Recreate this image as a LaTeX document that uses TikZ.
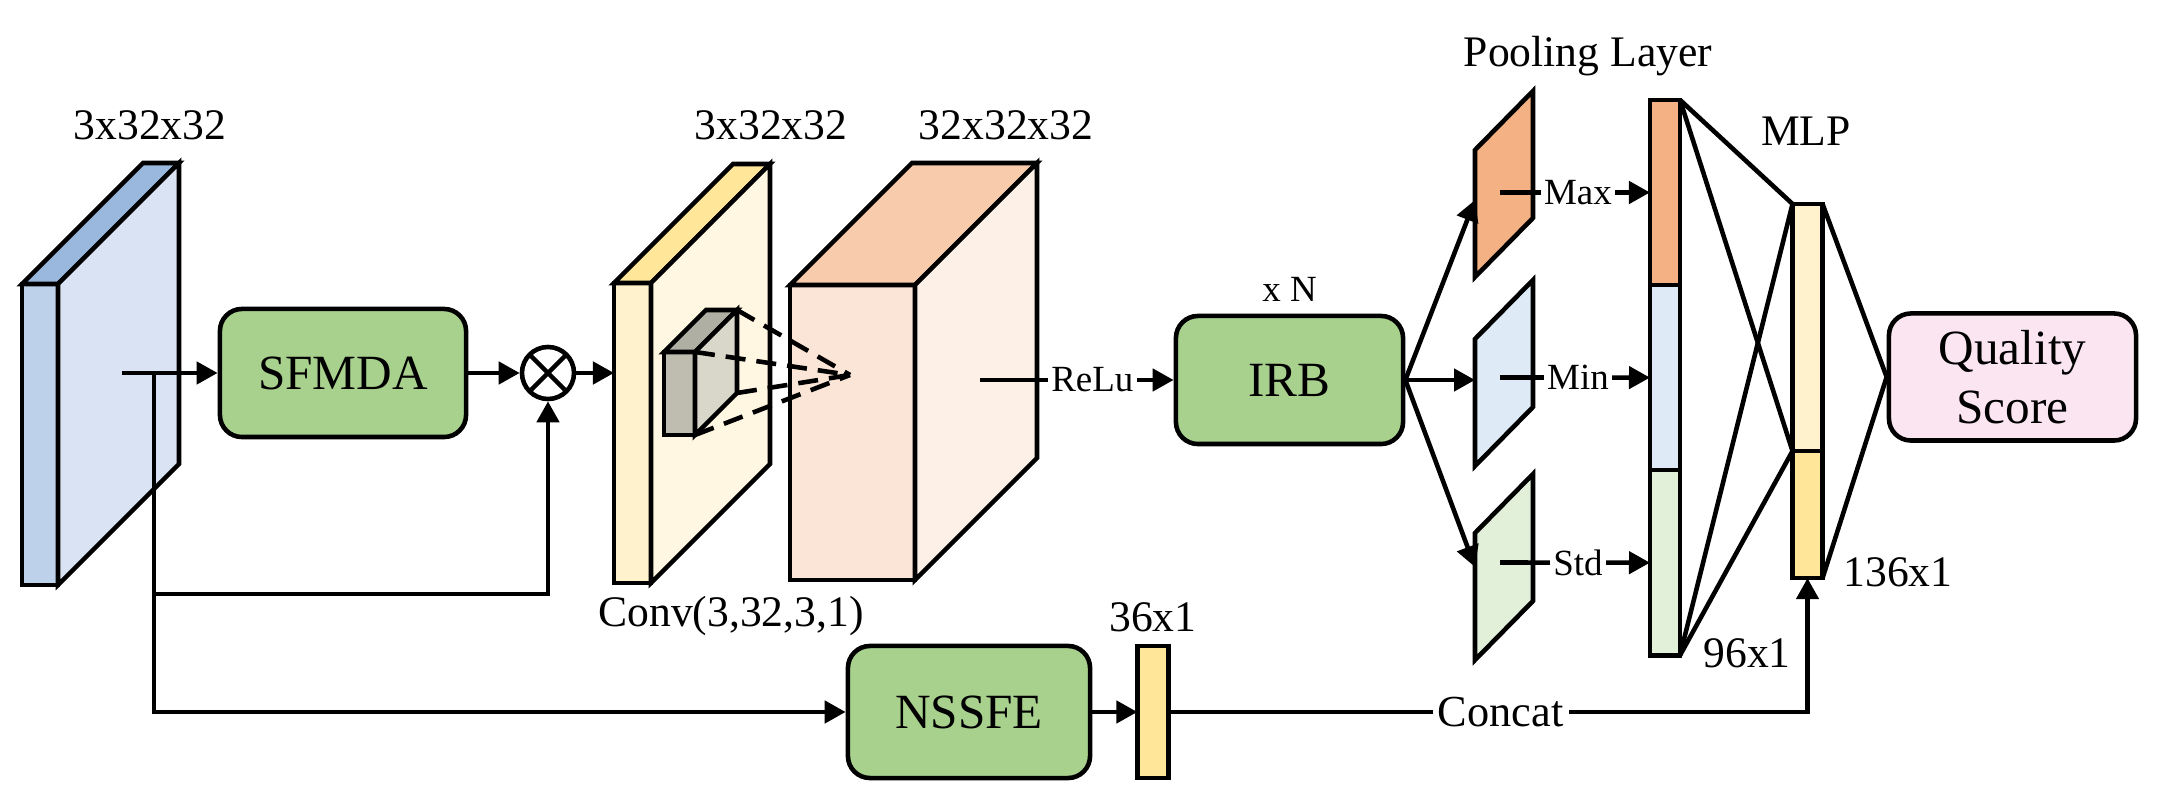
\documentclass[tikz,border=0pt]{standalone}
\usepackage{fontspec}
\setmainfont{Liberation Serif}
\usepackage{tikz}
\usetikzlibrary{arrows.meta,positioning,calc}
\usepackage{xcolor}
\definecolor{boxgreen}{HTML}{A9D18E}
\definecolor{inFront}{HTML}{BDD1EA}
\definecolor{inTop}{HTML}{9AB7DD}
\definecolor{inSide}{HTML}{DAE3F3}
\definecolor{convFront}{HTML}{FFF2CC}
\definecolor{convTop}{HTML}{FFE699}
\definecolor{convSide}{HTML}{FFF7E1}
\definecolor{featFront}{HTML}{FBE5D6}
\definecolor{featTop}{HTML}{F8CBAD}
\definecolor{featSide}{HTML}{FDF0E7}
\definecolor{kerFront}{HTML}{BFBCB0}
\definecolor{kerTop}{HTML}{B0AFA3}
\definecolor{kerSide}{HTML}{D9D6CA}
\definecolor{poolMax}{HTML}{F4B183}
\definecolor{poolMin}{HTML}{DEEBF7}
\definecolor{poolStd}{HTML}{E2F0D9}
\definecolor{mlpTop}{HTML}{FFF2CC}
\definecolor{mlpBot}{HTML}{FFE699}
\definecolor{scorebg}{HTML}{FBE5F1}

% x y w h depth front top side
\newcommand{\drawcuboid}[8]{%
  \filldraw[fill=#6] (#1,#2) rectangle ++(#3,#4);
  \filldraw[fill=#7] (#1,#2) -- ++(#5,-#5) -- ++(#3,0) -- ++(-#5,#5) -- cycle;
  \filldraw[fill=#8] ({#1+#3},#2) -- ++(#5,-#5) -- ++(0,#4) -- ++(-#5,#5) -- cycle;
}

\begin{document}
\begin{tikzpicture}[x=0.01cm, y=-0.01cm, line width=1.3pt,
  box/.style={rectangle, rounded corners=0.22cm, draw, fill=boxgreen,
              minimum width=2.4cm, minimum height=1.28cm,
              font=\fontsize{14}{16.8}\selectfont, align=center},
  lbl/.style={font=\fontsize{12.4}{14}\selectfont, anchor=base},
  tag/.style={font=\fontsize{10.5}{12}\selectfont, fill=white, inner sep=1pt},
  seg/.style={rectangle, draw, inner sep=0pt, outer sep=0pt, minimum width=0.3cm},
  mulsty/.style={circle, draw, fill=white, minimum size=0.52cm, inner sep=0pt,
              path picture={\draw (path picture bounding box.north west) -- (path picture bounding box.south east)
                                  (path picture bounding box.north east) -- (path picture bounding box.south west);}},
  arr/.style={-{Triangle[length=2.1mm,width=2.2mm]}},
]
  \useasboundingbox (0,0) rectangle (2163,810);

  % input tensor
  \drawcuboid{22}{284}{36}{301}{121}{inFront}{inTop}{inSide}
  \node[lbl] (inlbl) at (150,140) {3x32x32};
  \coordinate (inC) at (122,373);
  \coordinate (br) at (154,373);
  \coordinate (skip) at (154,594);

  % attention branch
  \node[box, minimum width=2.46cm] (sfmda) at (343,373) {SFMDA};
  \node[mulsty] (mul) at (548,373) {};

  % conv input and output
  \drawcuboid{614}{283}{37}{300}{119}{convFront}{convTop}{convSide}
  \drawcuboid{790}{285}{125}{295}{122}{featFront}{featTop}{featSide}
  \drawcuboid{664}{352}{31}{83}{42}{kerFront}{kerTop}{kerSide}
  \coordinate (k1) at (737,310);
  \coordinate (k2) at (695,352);
  \coordinate (k3) at (737,393);
  \coordinate (k4) at (695,435);
  \coordinate (focus) at (850,375);
  \foreach \c in {k1,k2,k3,k4}
    \draw[dash pattern=on 2mm off 1.1mm] (\c) -- (focus);
  \coordinate (convin) at (614,373);
  \coordinate (featC) at (980,380);
  \node[lbl] (convlbl) at (771,140) {3x32x32};
  \node[lbl] (featlbl) at (1006,140) {32x32x32};
  \node[lbl] (convop) at (731,627) {Conv(3,32,3,1)};

  \node[box, minimum width=2.27cm] (irb) at (1289.5,380) {IRB};
  \node[tag, fill=none, above=0.06cm of irb] (rep) {x N};

  % pooling
  \foreach \t/\col in {150/poolMax, 339/poolMin, 533/poolStd}
    \filldraw[fill=\col] (1475,\t) -- ++(58,-59) -- ++(0,127) -- ++(-58,59) -- cycle;
  \node[lbl] (poollbl) at (1588,67) {Pooling Layer};
  \coordinate (pmax) at (1500,192.5);
  \coordinate (pmin) at (1500,377.5);
  \coordinate (pstd) at (1500,562.5);
  \coordinate (pmaxin) at (1475,200);
  \coordinate (pminin) at (1475,380);
  \coordinate (pstdin) at (1475,567);

  \node[seg, fill=poolMax, minimum height=1.85cm] (barmax) at (1665,192.5) {};
  \node[seg, fill=poolMin, minimum height=1.85cm, below=0pt of barmax] (barmin) {};
  \node[seg, fill=poolStd, minimum height=1.85cm, below=0pt of barmin] (barstd) {};
  \node[lbl] (barlbl) at (1747,668) {96x1};

  % MLP
  \node[seg, fill=mlpTop, minimum height=2.47cm] (mlpa) at (1807.5,327.5) {};
  \node[seg, fill=mlpBot, minimum height=1.27cm, below=0pt of mlpa] (mlpb) {};
  \node[lbl] (mlplbl) at (1806,146) {MLP};
  \node[lbl] (mlpdim) at (1898,587) {136x1};
  \node[box, fill=scorebg, minimum width=2.47cm, minimum height=1.27cm] (qs) at (2012.5,377) {Quality\\Score};

  % handcrafted branch
  \node[box, minimum width=2.42cm, minimum height=1.32cm] (nssfe) at (969,712) {NSSFE};
  \node[seg, fill=mlpBot, minimum width=0.31cm, minimum height=1.32cm, right=0.45cm of nssfe] (f36) {};
  \node[lbl, anchor=south] (f36lbl) at (f36.north) {36x1};

  % connectors
  \draw[arr] (inC) -- (sfmda.west);
  \draw (br) -- (skip);
  \draw[arr] (skip) -| (mul.south);
  \draw[arr] (skip) |- (nssfe.west);
  \draw[arr] (sfmda.east) -- (mul.west);
  \draw[arr] (mul.east) -- (convin);
  \draw[arr] (featC) -- node[tag, pos=0.58] {ReLu} (irb.west);
  \foreach \p in {pmaxin,pminin,pstdin}
    \draw[arr] (irb.east) -- (\p);
  \draw[arr] (pmax) -- node[tag, pos=0.52] {Max} (barmax.west);
  \draw[arr] (pmin) -- node[tag, pos=0.52] {Min} (barmin.west);
  \draw[arr] (pstd) -- node[tag, pos=0.52] {Std} (barstd.west);
  \foreach \a in {barmax.north east, barstd.south east}
    \foreach \b in {mlpa.north west, mlpa.south west}
      \draw (\a) -- (\b);
  \draw (mlpa.north east) -- (qs.west);
  \draw (mlpb.south east) -- (qs.west);
  \draw[arr] (nssfe.east) -- (f36.west);
  \draw[arr] (f36.east) -| node[pos=0.26, font=\fontsize{12.6}{14}\selectfont, fill=white, inner sep=1.5pt] {Concat} (mlpb.south);
\end{tikzpicture}
\end{document}
